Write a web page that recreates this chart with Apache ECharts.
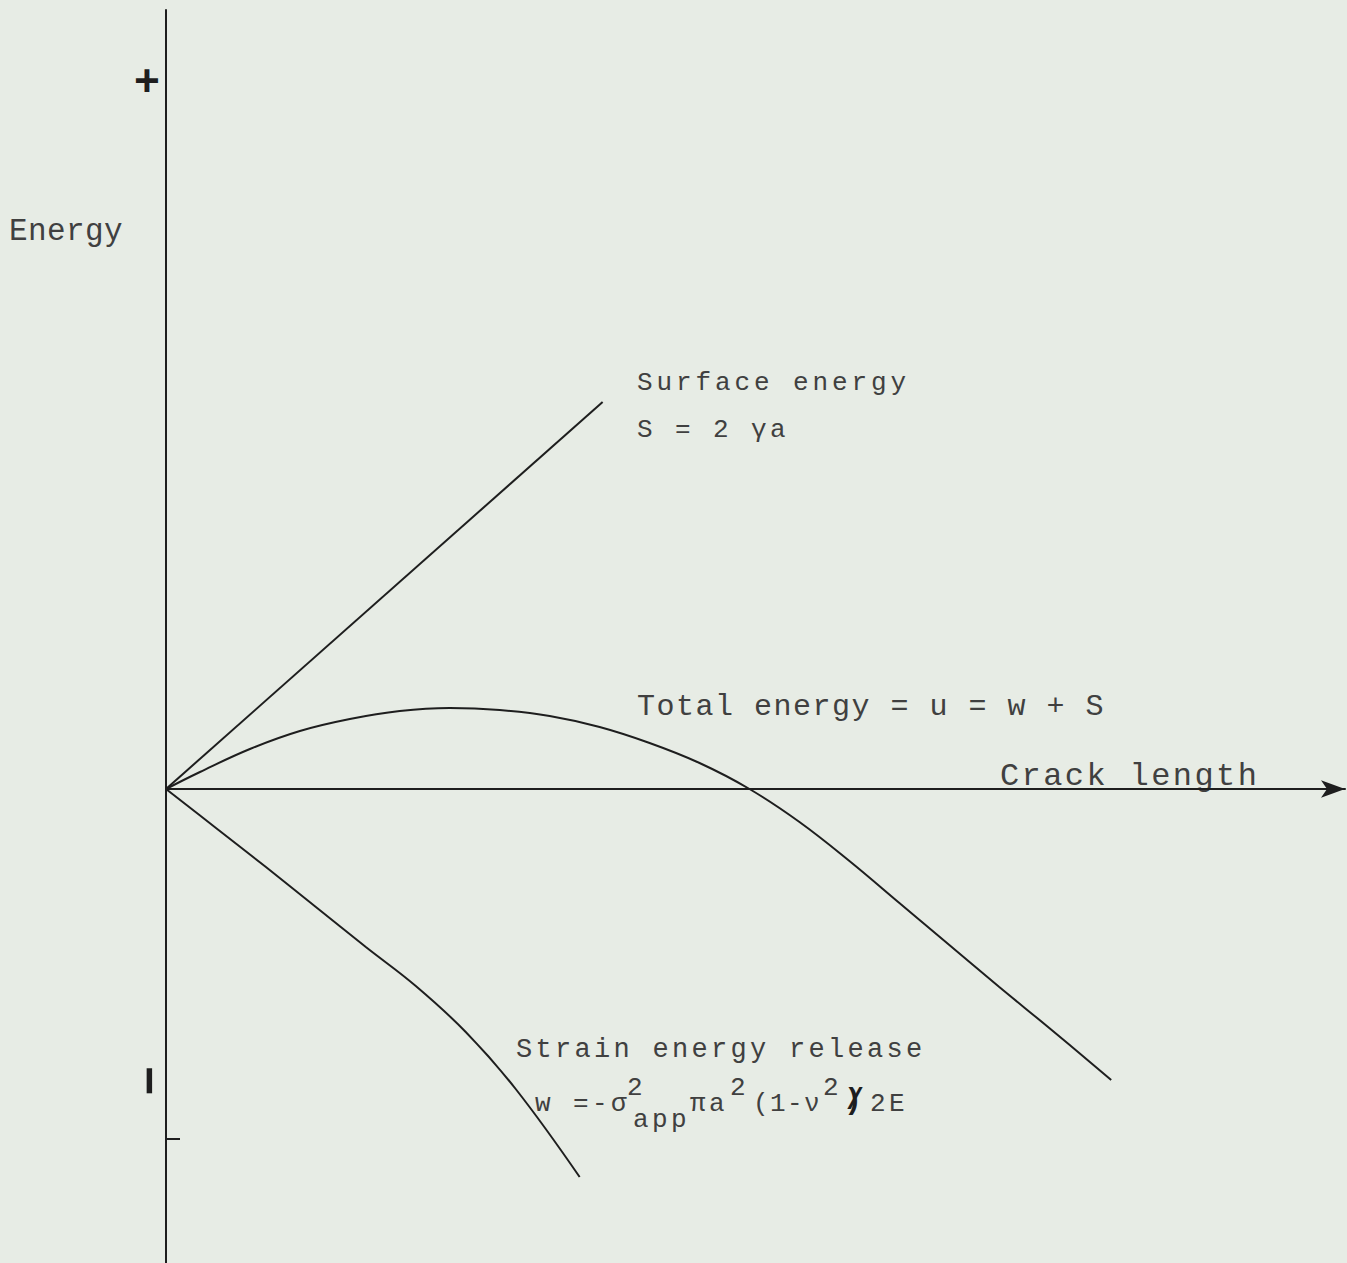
<!DOCTYPE html>
<html>
<head>
<meta charset="utf-8">
<script src="https://cdn.jsdelivr.net/npm/echarts@6/dist/echarts.min.js"></script>
<style>
  html, body { margin: 0; padding: 0; background: #e7ece5; }
  #chart { width: 1347px; height: 1263px; }
</style>
</head>
<body>
<div id="chart"></div>
<script>
// Crack length a (x) against energy (y), arbitrary units.
const surfaceA = [0, 4.37];
const surfaceS = [0, 3.87];

const totalA = [0, 0.34, 0.84, 1.34, 1.84, 2.34, 2.84, 3.34, 3.84, 4.34, 4.84, 5.34, 5.84, 6.34, 6.84, 7.34, 7.84, 8.34, 8.84, 9.46];
const totalU = [0, 0.17, 0.40, 0.58, 0.70, 0.78, 0.81, 0.79, 0.73, 0.62, 0.46, 0.26, 0.00, -0.33, -0.72, -1.14, -1.56, -1.98, -2.39, -2.91];

const strainA = [0, 0.5, 1.0, 1.5, 2.0, 2.5, 3.0, 3.5, 4.14];
const strainW = [0, -0.39, -0.78, -1.18, -1.58, -1.97, -2.43, -3.00, -3.88];

const axisRangeA = [0, 11.8];
const axisRangeE = [-4.74, 7.79];

const yAxisTitle = 'Energy';
const xAxisTitle = 'Crack length';
const surfaceTitle = 'Surface energy';
const surfaceFormula = 'S = 2 γa';
const totalTitle = 'Total energy = u = w + S';
const strainTitle = 'Strain energy release';

const pairs = (xs, ys) => xs.map((x, i) => [x, ys[i]]);

const INK = '#1e1e1e';
const TYPE = '#404040';
const MONO = "'Liberation Mono', 'DejaVu Sans Mono', monospace";

// letter spacing (px) per text, applied after the SVG is drawn
const spacing = new Map();

function txt(text, x, y, size, gap, opts) {
  opts = opts || {};
  if (gap) spacing.set(text, gap);
  return {
    type: 'text',
    x: x, y: y,
    rotation: opts.rotation || 0,
    silent: true,
    style: {
      text: text,
      fill: opts.fill || TYPE,
      fontSize: size,
      fontFamily: MONO,
      fontWeight: opts.weight || 'normal',
      textAlign: opts.align || 'left',
      textVerticalAlign: 'middle'
    }
  };
}

const lineStyle = { color: INK, width: 2 };

const chart = echarts.init(document.getElementById('chart'), null, { renderer: 'svg' });

chart.setOption({
  animation: false,
  backgroundColor: '#e7ece5',
  grid: { left: 166, right: 2, top: 10, bottom: 0, containLabel: false },
  xAxis: {
    type: 'value',
    min: axisRangeA[0], max: axisRangeA[1],
    axisLine: { show: true, onZero: true, symbol: ['none', 'arrow'], symbolSize: [13, 24], lineStyle: { color: INK, width: 2 } },
    axisTick: { show: false },
    axisLabel: { show: false },
    splitLine: { show: false }
  },
  yAxis: {
    type: 'value',
    min: axisRangeE[0], max: axisRangeE[1],
    axisLine: { show: true, onZero: false, lineStyle: { color: INK, width: 2 } },
    axisTick: { show: false },
    axisLabel: { show: false },
    splitLine: { show: false }
  },
  series: [
    { name: surfaceTitle, type: 'line', data: pairs(surfaceA, surfaceS), showSymbol: false, symbol: 'none', lineStyle: lineStyle },
    { name: totalTitle, type: 'line', data: pairs(totalA, totalU), showSymbol: false, symbol: 'none', smooth: 0.4, lineStyle: lineStyle },
    { name: strainTitle, type: 'line', data: pairs(strainA, strainW), showSymbol: false, symbol: 'none', smooth: 0.4, lineStyle: lineStyle }
  ],
  graphic: [
    // sign marks on the energy axis
    txt('+', 147, 84, 44, 0, { fill: INK, weight: 'bold', align: 'center' }),
    txt('−', 152, 1081, 50, 0, { fill: INK, weight: 'bold', align: 'center', rotation: Math.PI / 2 }),
    { type: 'line', silent: true, shape: { x1: 167, y1: 1139, x2: 180, y2: 1139 }, style: { stroke: INK, lineWidth: 2 } },

    txt(yAxisTitle, 9, 231, 31, 0.4),
    txt(surfaceTitle, 637, 383, 26, 3.9),
    txt(surfaceFormula, 637, 430, 26, 3.4),
    txt(totalTitle, 637, 707, 30, 1.5),
    txt(xAxisTitle, 1000, 776, 32, 2.4),
    txt(strainTitle, 516, 1050, 27, 3.3),

    // w = -σ²_app π a² (1-ν²)/2E
    txt('w =-σ', 535, 1104, 26, 3.4),
    txt('2', 627, 1088, 26, 0),
    txt('app', 633, 1120, 26, 3.4),
    txt('πa', 690, 1104, 26, 3.4),
    txt('2', 730, 1088, 26, 0),
    txt('(1-ν', 753, 1104, 26, 1.4),
    txt('2', 823, 1088, 26, 0),
    txt(')', 844, 1101, 30, 0, { fill: INK, weight: 'bold' }),
    txt('/', 846, 1101, 30, 0, { fill: INK, weight: 'bold' }),
    txt('2E', 870, 1104, 26, 3.4)
  ]
});

// widen the typewriter pitch of each text
function applySpacing() {
  document.querySelectorAll('#chart svg text').forEach(function (el) {
    const gap = spacing.get(el.textContent);
    if (gap) el.setAttribute('letter-spacing', gap + 'px');
  });
}
applySpacing();
chart.on('finished', applySpacing);
</script>
</body>
</html>
